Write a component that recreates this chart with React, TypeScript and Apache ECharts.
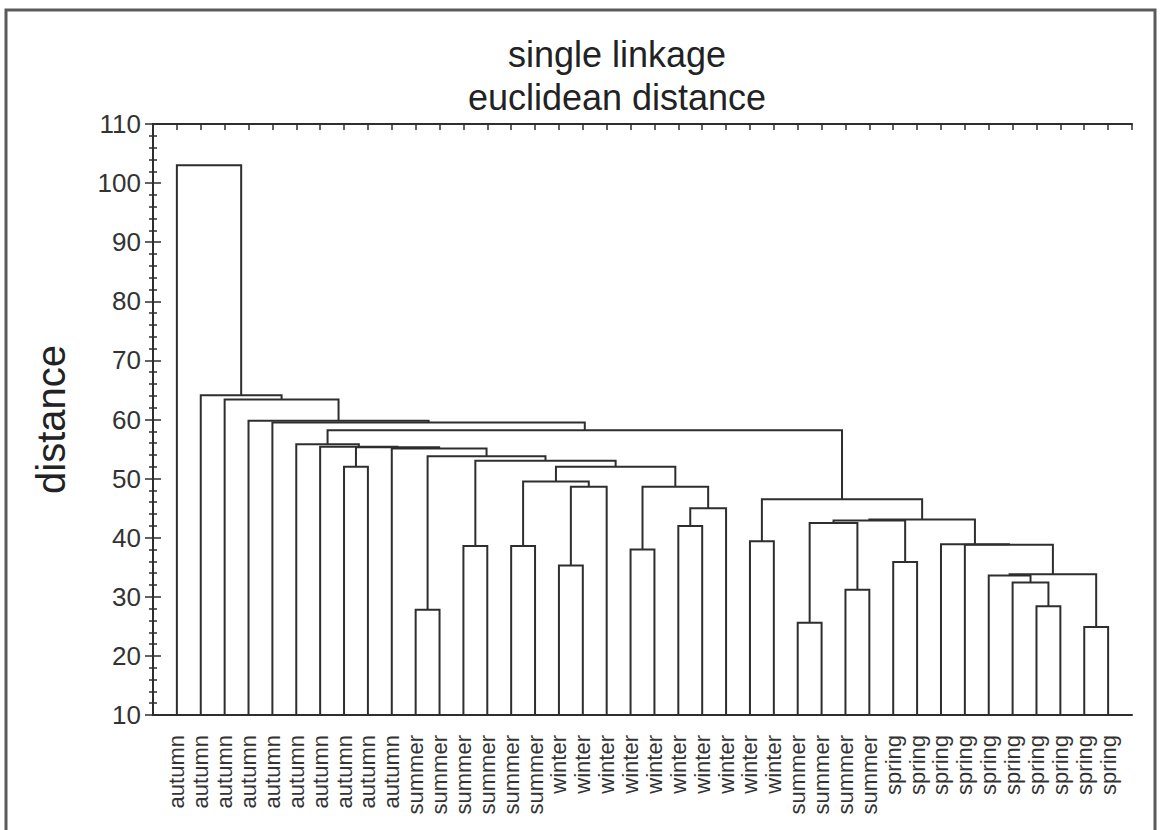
import React, { useEffect, useRef } from "react";
import * as echarts from "echarts";

// Leaf labels, left to right (40 objects)
const leafLabels: string[] = [
  "autumn", "autumn", "autumn", "autumn", "autumn", "autumn", "autumn", "autumn", "autumn", "autumn",
  "summer", "summer", "summer", "summer", "summer", "summer",
  "winter", "winter", "winter", "winter", "winter", "winter", "winter", "winter", "winter", "winter",
  "summer", "summer", "summer", "summer",
  "spring", "spring", "spring", "spring", "spring", "spring", "spring", "spring", "spring", "spring",
];

// Linkage table: leaves are 0..39, merge k creates node 40 + k
const mergeLeft: number[] = [
  7, 10, 12, 14, 16, 44, 43, 19, 21, 48,
  47, 46, 42, 41, 9, 40, 6, 5, 24, 26,
  28, 59, 30, 61, 36, 35, 34, 38, 66, 33,
  32, 63, 58, 57, 4, 3, 2, 1, 0,
];
const mergeRight: number[] = [
  8, 11, 13, 15, 17, 18, 45, 20, 22, 23,
  49, 50, 51, 52, 53, 54, 55, 56, 25, 27,
  29, 60, 31, 62, 37, 64, 65, 39, 67, 68,
  69, 70, 71, 72, 73, 74, 75, 76, 77,
];
const mergeHeight: number[] = [
  52.0, 27.8, 38.6, 38.6, 35.3, 48.6, 49.5, 38.0, 42.0, 45.0,
  48.6, 52.0, 53.0, 53.8, 55.1, 55.3, 55.4, 55.8, 39.4, 25.6,
  31.2, 42.5, 35.9, 42.9, 28.4, 32.4, 33.6, 24.9, 33.8, 38.8,
  38.9, 43.1, 46.5, 58.2, 59.5, 59.8, 63.4, 64.1, 103.0,
];

const yMin = 10;
const yMax = 110;
const yStep = 10;

function buildLinks(): number[][] {
  const nodeX: number[] = leafLabels.map((_, i) => i + 1);
  const nodeH: number[] = leafLabels.map(() => yMin);
  const links: number[][] = [];
  mergeLeft.forEach((l, k) => {
    const r = mergeRight[k];
    const h = mergeHeight[k];
    const xl = nodeX[l];
    const xr = nodeX[r];
    links.push([xl, nodeH[l], xr, nodeH[r], h]);
    nodeX.push((xl + xr) / 2);
    nodeH.push(h);
  });
  return links;
}

const FONT = "'Liberation Sans', Arial, sans-serif";
const INK = "#2e2e2e";

export default function App() {
  const ref = useRef<HTMLDivElement>(null);

  useEffect(() => {
    if (!ref.current) return;
    const chart = echarts.init(ref.current, null, { renderer: "svg" });
    const links = buildLinks();
    const nCat = leafLabels.length;

    const option: any = {
      animation: false,
      backgroundColor: "#ffffff",
      title: {
        text: "single linkage\neuclidean distance",
        left: 612,
        top: 28,
        textAlign: "center",
        textStyle: {
          fontFamily: FONT,
          fontSize: 36,
          fontWeight: "normal",
          color: "#222",
          lineHeight: 43,
        },
      },
      graphic: [
        {
          type: "rect",
          shape: { x: 6, y: 10, width: 1149, height: 840 },
          style: { fill: "none", stroke: "#5a5a5a", lineWidth: 3 },
          silent: true,
        },
      ],
      grid: { left: 153, right: 29, top: 124, bottom: 115, containLabel: false },
      xAxis: [
        {
          type: "value",
          position: "bottom",
          min: 0,
          max: nCat + 1,
          interval: 1,
          splitLine: { show: false },
          axisLine: { show: true, lineStyle: { color: INK, width: 2 } },
          axisTick: { show: false },
          axisLabel: {
            show: true,
            rotate: 90,
            margin: 20,
            fontFamily: FONT,
            fontSize: 22,
            color: "#333",
            formatter: (v: number) => {
              const i = Math.round(v) - 1;
              return i >= 0 && i < nCat ? leafLabels[i] : "";
            },
          },
        },
        {
          type: "value",
          position: "top",
          min: 0,
          max: nCat + 1,
          interval: 1,
          splitLine: { show: false },
          axisLine: { show: true, lineStyle: { color: INK, width: 2 } },
          axisTick: { show: true, inside: true, length: 6, lineStyle: { color: INK, width: 1.5 } },
          axisLabel: { show: false },
        },
      ],
      yAxis: [
        {
          type: "value",
          position: "left",
          min: yMin,
          max: yMax,
          interval: yStep,
          name: "distance",
          nameLocation: "middle",
          nameRotate: 90,
          nameGap: 82,
          nameTextStyle: { fontFamily: FONT, fontSize: 40, color: "#222" },
          splitLine: { show: false },
          axisLine: { show: true, lineStyle: { color: INK, width: 2 } },
          axisTick: { show: true, inside: true, length: 8, lineStyle: { color: INK, width: 1.5 } },
          minorTick: { show: true, splitNumber: 5, length: 4, lineStyle: { color: INK, width: 1.5 } },
          axisLabel: { fontFamily: FONT, fontSize: 26, color: "#333", margin: 12 },
        },
        {
          type: "value",
          position: "right",
          min: yMin,
          max: yMax,
          interval: yStep,
          splitLine: { show: false },
          axisLine: { show: true, lineStyle: { color: INK, width: 2 } },
          axisTick: { show: true, inside: true, length: 8, lineStyle: { color: INK, width: 1.5 } },
          minorTick: { show: true, splitNumber: 5, length: 4, lineStyle: { color: INK, width: 1.5 } },
          axisLabel: { show: false },
        },
      ],
      series: [
        {
          type: "custom",
          xAxisIndex: 0,
          yAxisIndex: 0,
          clip: false,
          data: links,
          encode: { x: [0, 2], y: [1, 3, 4] },
          renderItem: (params: any, api: any) => {
            const xl = api.value(0);
            const hl = api.value(1);
            const xr = api.value(2);
            const hr = api.value(3);
            const h = api.value(4);
            const pts = [
              api.coord([xl, hl]),
              api.coord([xl, h]),
              api.coord([xr, h]),
              api.coord([xr, hr]),
            ];
            return {
              type: "polyline",
              shape: { points: pts },
              style: { stroke: INK, lineWidth: 2, fill: "none" },
            };
          },
        },
      ],
    };

    chart.setOption(option);
    return () => {
      chart.dispose();
    };
  }, []);

  return (
    <div
      ref={ref}
      style={{ position: "fixed", left: 0, top: 0, width: 1161, height: 830, background: "#fff" }}
    />
  );
}
